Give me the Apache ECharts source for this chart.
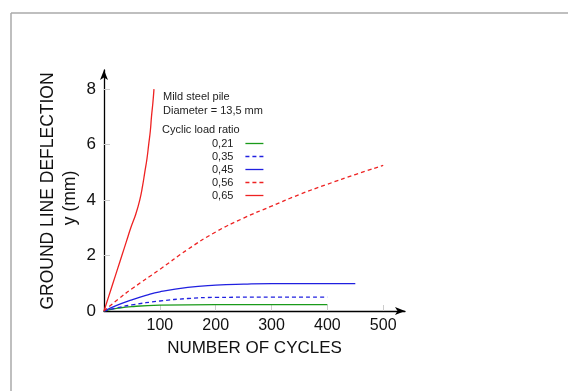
<!DOCTYPE html>
<html>
<head>
<meta charset="utf-8">
<script src="https://cdn.jsdelivr.net/npm/echarts@6/dist/echarts.min.js"></script>
<style>
  html,body{margin:0;padding:0;background:#fff;}
  #main{width:568px;height:391px;}
</style>
</head>
<body>
<div id="main"></div>
<script>
// cycles / deflection (mm)
const ratioNames=['0,21','0,35','0,45','0,56','0,65'];

const cyc021=[0,25,50,100,200,300,400];
const def021=[0,0.1,0.16,0.21,0.23,0.23,0.23];

const cyc035=[0,25,50,100,150,200,300,400];
const def035=[0,0.12,0.22,0.36,0.45,0.49,0.5,0.5];

const cyc045=[0,25,50,75,100,150,200,250,300,350,400,450];
const def045=[0,0.22,0.4,0.56,0.69,0.85,0.93,0.97,0.99,0.99,0.99,0.99];

const cyc056=[0,25,50,100,150,200,250,300,350,400,450,500];
const def056=[0,0.42,0.8,1.5,2.22,2.85,3.35,3.78,4.2,4.57,4.92,5.25];

const cyc065=[0,8,16,24,32,40,48,57,64,69,73,77,80,83,85,87.5,89.5];
const def065=[0,0.5,1,1.5,2,2.5,3,3.5,4,4.5,5,5.5,6,6.5,7,7.5,8];

const xTicks=[100,200,300,400,500];
const yTicks=[0,2,4,6,8];

const font='"Liberation Sans", Arial, sans-serif';

function pairs(xs,ys){
  let out=[];
  for(let i=0;i<xs.length;i++){
    out.push([xs[i],ys[i]]);
  }
  return out;
}

function makeSeries(name,xs,ys,color,dashed){
  return {
    name:name,
    type:'line',
    data:pairs(xs,ys),
    smooth:true,
    symbol:'none',
    lineStyle:{
      color:color,
      width:1.3,
      type:dashed?[4,3]:'solid'
    },
    itemStyle:{color:color}
  };
}

const chart=echarts.init(document.getElementById('main'),null,{renderer:'canvas'});

const option={
  animation:false,
  backgroundColor:'#fff',
  grid:{
    left:104,
    right:163,
    top:70,
    bottom:80
  },
  legend:{
    orient:'vertical',
    left:207,
    top:132,
    align:'right',
    itemWidth:18,
    itemHeight:13,
    itemGap:0,
    data:ratioNames,
    // only keep the line sample, hide the symbol in the middle
    itemStyle:{color:'rgba(0,0,0,0)',borderColor:'rgba(0,0,0,0)',borderWidth:0},
    lineStyle:{width:1.3},
    textStyle:{
      fontFamily:font,
      fontSize:11,
      lineHeight:13,
      color:'#222',
      padding:[0,7,0,0]
    }
  },
  xAxis:{
    type:'value',
    min:0,
    max:539,
    axisLine:{
      lineStyle:{color:'#000',width:1.3},
      symbol:['none','arrow'],
      symbolSize:[6,10]
    },
    axisTick:{
      inside:true,
      length:6,
      customValues:xTicks,
      lineStyle:{color:'#ccc'}
    },
    axisLabel:{
      customValues:xTicks,
      margin:7,
      fontFamily:font,
      fontSize:16,
      color:'#111'
    },
    splitLine:{show:false},
    name:'NUMBER OF CYCLES',
    nameLocation:'middle',
    nameGap:29,
    nameTextStyle:{
      fontFamily:font,
      fontSize:17,
      color:'#111'
    }
  },
  yAxis:{
    type:'value',
    min:0,
    max:8.69,
    axisLine:{
      show:true,
      lineStyle:{color:'#000',width:1.3},
      symbol:['none','arrow'],
      symbolSize:[6,10]
    },
    axisTick:{
      show:true,
      inside:true,
      length:6,
      customValues:[2,4,6,8],
      lineStyle:{color:'#ccc'}
    },
    axisLabel:{
      customValues:yTicks,
      margin:8,
      fontFamily:font,
      fontSize:17,
      color:'#111'
    },
    splitLine:{show:false}
  },
  graphic:[
    // page frame
    {type:'line',shape:{x1:11,y1:13,x2:568,y2:13},style:{stroke:'#aaa',lineWidth:1.5},silent:true},
    {type:'line',shape:{x1:11,y1:13,x2:11,y2:391},style:{stroke:'#aaa',lineWidth:1.5},silent:true},
    // y axis title (two lines)
    {type:'text',x:48,y:191,rotation:Math.PI/2,
      style:{text:'GROUND LINE DEFLECTION',font:'17.5px '+font,fill:'#111',align:'center',verticalAlign:'middle'}},
    {type:'text',x:70,y:198,rotation:Math.PI/2,
      style:{text:'y (mm)',font:'17.5px '+font,fill:'#111',align:'center',verticalAlign:'middle'}},
    // notes
    {type:'text',x:163,y:97,style:{text:'Mild steel pile',font:'11px '+font,fill:'#222',verticalAlign:'middle'}},
    {type:'text',x:163,y:111,style:{text:'Diameter = 13,5 mm',font:'11px '+font,fill:'#222',verticalAlign:'middle'}},
    {type:'text',x:162,y:130,style:{text:'Cyclic load ratio',font:'11px '+font,fill:'#222',verticalAlign:'middle'}}
  ],
  series:[
    makeSeries(ratioNames[0],cyc021,def021,'#1a9a1a',false),
    makeSeries(ratioNames[1],cyc035,def035,'#2020e0',true),
    makeSeries(ratioNames[2],cyc045,def045,'#2020e0',false),
    makeSeries(ratioNames[3],cyc056,def056,'#ee2222',true),
    makeSeries(ratioNames[4],cyc065,def065,'#ee2222',false)
  ]
};
chart.setOption(option);
</script>
</body>
</html>
